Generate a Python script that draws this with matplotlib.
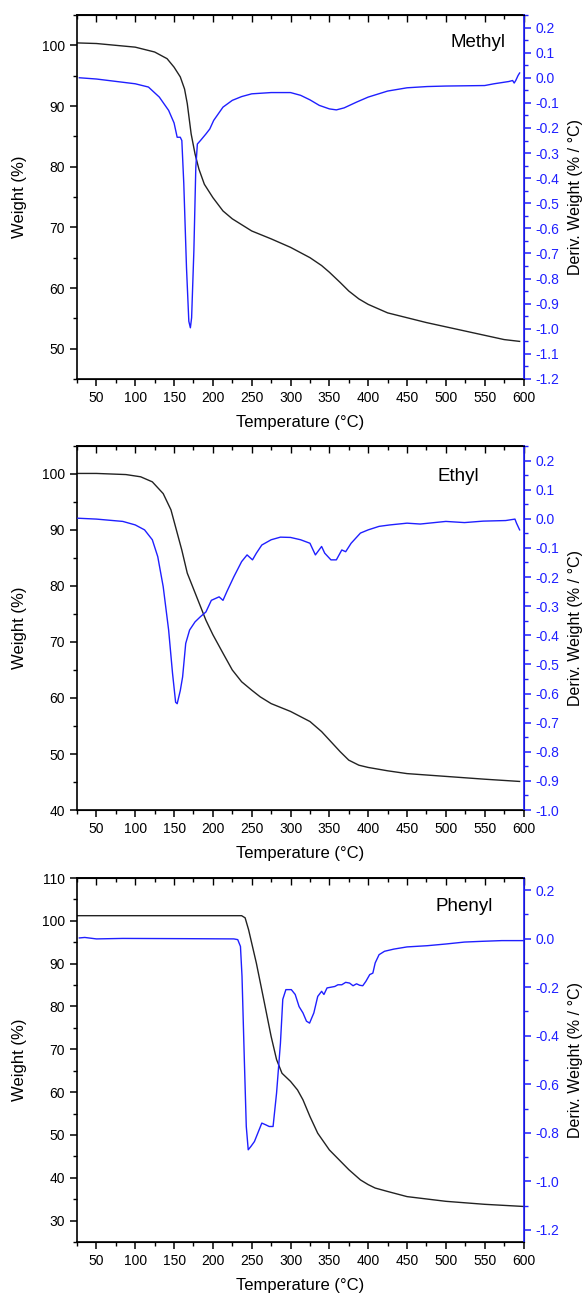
import numpy as np
import matplotlib
matplotlib.use("Agg")
import matplotlib.pyplot as plt
from matplotlib.ticker import MultipleLocator

plt.rcParams['font.family'] = ['Liberation Sans', 'DejaVu Sans']

# ---- Methyl ----
methyl_wt_T = [25, 50, 100, 125, 141, 150, 158, 163.5, 167, 172, 177, 182, 189, 200, 213, 225,
               250, 275, 300, 325, 340, 350, 364, 375, 388, 400, 425, 450, 475, 500, 525, 550, 575, 595]
methyl_wt = [100.4, 100.3, 99.7, 98.9, 97.8, 96.4, 94.8, 92.8, 90.4, 85.4, 82.1, 79.6, 77.1, 74.9, 72.7, 71.4,
             69.4, 68.1, 66.7, 65.0, 63.7, 62.6, 60.9, 59.5, 58.2, 57.3, 55.9, 55.1, 54.3, 53.6, 52.9, 52.2, 51.5, 51.2]
methyl_d_T = [28, 50, 100, 117, 131, 143, 150, 154, 158, 160, 162.5, 166, 169, 171, 172.6, 175.5, 178, 180,
              184, 191, 196, 201, 213, 225, 237, 250, 275, 300, 313, 325, 337, 350, 359, 369, 385, 400,
              425, 450, 476, 500, 550, 562, 581, 586, 588, 590, 593, 595]
methyl_d = [0.0, -0.005, -0.024, -0.037, -0.077, -0.13, -0.18, -0.237, -0.237, -0.25, -0.42, -0.756, -0.97,
            -0.996, -0.956, -0.69, -0.357, -0.264, -0.25, -0.224, -0.204, -0.17, -0.117, -0.09, -0.075,
            -0.064, -0.059, -0.059, -0.07, -0.088, -0.11, -0.124, -0.128, -0.12, -0.097, -0.077, -0.053,
            -0.04, -0.035, -0.033, -0.031, -0.024, -0.015, -0.011, -0.021, -0.011, 0.009, 0.019]

# ---- Ethyl ----
ethyl_wt_T = [25, 50, 88, 107, 122, 136, 146, 153, 160, 167, 179, 191, 200, 213, 225, 237, 250, 261,
              275, 300, 325, 340, 350, 364, 375, 388, 400, 425, 450, 500, 550, 595]
ethyl_wt = [100.1, 100.1, 99.9, 99.5, 98.6, 96.5, 93.6, 90.0, 86.4, 82.3, 78.1, 73.9, 71.3, 68.0, 65.0,
            62.9, 61.4, 60.2, 59.0, 57.6, 55.8, 54.0, 52.5, 50.4, 48.9, 48.0, 47.6, 47.0, 46.5, 46.0, 45.5, 45.1]
ethyl_d_T = [26, 50, 84, 100, 112, 122, 129, 136, 143, 148, 152, 154, 158, 161, 165, 170, 177, 184, 191,
             198, 208, 213, 218, 227, 237, 244, 251, 256, 263, 275, 287, 300, 313, 325, 332, 340, 344,
             352, 359, 366, 371, 378, 390, 400, 414, 428, 450, 467, 500, 524, 548, 577, 589, 591, 595]
ethyl_d = [0.002, -0.001, -0.009, -0.021, -0.038, -0.072, -0.13, -0.233, -0.382, -0.53, -0.63, -0.635,
           -0.59, -0.543, -0.428, -0.382, -0.354, -0.336, -0.32, -0.28, -0.268, -0.28, -0.25, -0.199,
           -0.147, -0.124, -0.141, -0.118, -0.09, -0.072, -0.063, -0.064, -0.072, -0.084, -0.124, -0.095,
           -0.118, -0.141, -0.141, -0.107, -0.113, -0.084, -0.049, -0.038, -0.026, -0.021, -0.015, -0.018,
           -0.009, -0.013, -0.008, -0.006, -0.001, -0.015, -0.038]

# ---- Phenyl ----
phenyl_wt_T = [25, 237, 241.5, 246, 256, 265.5, 275, 282, 289, 300, 309, 316, 325, 335, 350, 375, 390,
               400, 409, 425, 450, 500, 550, 600]
phenyl_wt = [101.2, 101.2, 100.7, 97.9, 90.1, 81.6, 73.0, 67.6, 64.4, 62.5, 60.5, 58.2, 54.3, 50.4, 46.5,
             41.9, 39.5, 38.4, 37.6, 36.8, 35.6, 34.5, 33.8, 33.3]
phenyl_d_T = [28, 35, 50, 84, 165, 227, 232, 235.5, 237.5, 240.5, 243, 245.5, 249, 253.5, 258, 263, 268,
              272.5, 277.5, 282, 287, 290, 294, 301, 306, 311, 316, 320.5, 324.5, 330, 335, 340, 343, 347,
              352, 357, 361, 366, 371, 376, 380.5, 385, 389, 393, 397, 402, 406, 409, 414, 421, 433, 450,
              476, 500, 524, 546, 572, 600]
phenyl_d = [0.003, 0.005, -0.001, 0.001, 0.0, -0.001, -0.004, -0.032, -0.155, -0.5, -0.774, -0.87, -0.856,
            -0.836, -0.8, -0.76, -0.767, -0.774, -0.774, -0.636, -0.43, -0.25, -0.21, -0.21, -0.23, -0.28,
            -0.306, -0.34, -0.348, -0.306, -0.238, -0.217, -0.23, -0.203, -0.2, -0.197, -0.19, -0.19, -0.18,
            -0.183, -0.194, -0.186, -0.192, -0.194, -0.176, -0.148, -0.142, -0.1, -0.066, -0.052, -0.043,
            -0.034, -0.029, -0.022, -0.014, -0.011, -0.008, -0.008]

panels = [
    ("Methyl", methyl_wt_T, methyl_wt, methyl_d_T, methyl_d, (45, 105), 10, 5, (-1.2, 0.25), 0.1, 0.05, (0.897, 0.924)),
    ("Ethyl", ethyl_wt_T, ethyl_wt, ethyl_d_T, ethyl_d, (40, 105), 10, 5, (-1.0, 0.25), 0.1, 0.05, (0.853, 0.916)),
    ("Phenyl", phenyl_wt_T, phenyl_wt, phenyl_d_T, phenyl_d, (25, 110), 10, 5, (-1.25, 0.25), 0.2, 0.1, (0.867, 0.921)),
]


def fmt_deriv(v, pos):
    if abs(v) < 1e-9:
        return "0.0"
    return f"{v:.1f}"


W, H = 584, 1297
fig = plt.figure(figsize=(W / 100, H / 100), dpi=100)
blue = '#1f1fff'
tops = [15, 446, 878]
ph = 364

for (name, wT, wt, dT, d, ylim, ymaj, ymin, y2lim, y2maj, y2min, tpos), top in zip(panels, tops):
    ax = fig.add_axes([77 / W, 1 - (top + ph) / H, 446.5 / W, ph / H])
    ax2 = ax.twinx()
    ax.plot(wT, wt, color='#222222', lw=1.0)
    ax2.plot(dT, d, color=blue, lw=1.0)

    ax.set_xlim(25, 600)
    ax.set_ylim(*ylim)
    ax2.set_ylim(*y2lim)
    ax.xaxis.set_major_locator(MultipleLocator(50))
    ax.xaxis.set_minor_locator(MultipleLocator(25))
    ax.yaxis.set_major_locator(MultipleLocator(ymaj))
    ax.yaxis.set_minor_locator(MultipleLocator(ymin))
    ax2.yaxis.set_major_locator(MultipleLocator(y2maj))
    ax2.yaxis.set_minor_locator(MultipleLocator(y2min))
    ax2.yaxis.set_major_formatter(plt.FuncFormatter(fmt_deriv))

    ax.tick_params(axis='x', which='both', bottom=True, top=False, direction='out', labelsize=10)
    ax.tick_params(axis='x', which='major', length=5, width=1.1)
    ax.tick_params(axis='x', which='minor', length=3, width=1.0)
    ax.tick_params(axis='y', which='major', length=5, width=1.1, labelsize=10, direction='out')
    ax.tick_params(axis='y', which='minor', length=3, width=1.0, direction='out')
    # inward ticks along the top
    sec = ax.secondary_xaxis('top')
    sec.xaxis.set_major_locator(MultipleLocator(50))
    sec.xaxis.set_minor_locator(MultipleLocator(25))
    sec.tick_params(which='both', direction='in', labeltop=False, width=1.0)
    sec.tick_params(which='major', length=5)
    sec.tick_params(which='minor', length=3)
    sec.spines['top'].set_linewidth(1.2)

    ax2.tick_params(axis='y', which='major', length=5, width=1.1, colors=blue, labelsize=10, direction='out')
    ax2.tick_params(axis='y', which='minor', length=3, width=1.0, colors=blue, direction='out')
    for s in ['left', 'bottom', 'top']:
        ax.spines[s].set_linewidth(1.2)
    ax2.spines['right'].set_color(blue)
    ax2.spines['right'].set_linewidth(1.2)
    ax2.spines['left'].set_visible(False)

    ax.set_xlabel('Temperature (°C)', fontsize=12)
    ax.xaxis.set_label_coords(0.5, -0.098)
    ax.set_ylabel('Weight (%)', fontsize=12)
    ax.yaxis.set_label_coords(-0.112, 0.5)
    ax2.set_ylabel('Deriv. Weight (% / °C)', fontsize=11.5, color='black')
    ax2.yaxis.set_label_coords(1.099, 0.5)

    ax.text(tpos[0], tpos[1], name, transform=ax.transAxes, fontsize=13.5, ha='center', va='center')

fig.savefig('out.png', dpi=100)
